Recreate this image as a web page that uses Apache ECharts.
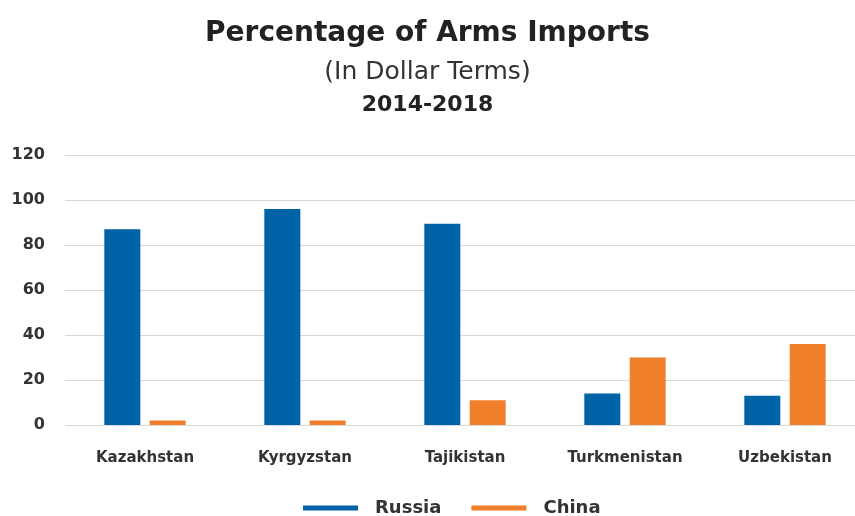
<!DOCTYPE html>
<html>
<head>
<meta charset="utf-8">
<script src="https://cdn.jsdelivr.net/npm/echarts@6/dist/echarts.min.js"></script>
<style>
  html, body { margin: 0; padding: 0; background: #fff; }
  #chart { width: 855px; height: 516px; }
</style>
</head>
<body>
<div id="chart"></div>
<script>
// 中亚国家军火进口占比（按美元计）
const countries = ["Kazakhstan", "Kyrgyzstan", "Tajikistan", "Turkmenistan", "Uzbekistan"];
const russia = [87, 96, 89.5, 14, 13];
const china = [2, 2, 11, 30, 36];
const yTicks = [0, 20, 40, 60, 80, 100, 120];

const font = "DejaVu Sans, Verdana, sans-serif";
const chart = echarts.init(document.getElementById("chart"));

const option = {
  animation: false,
  title: [
    {
      text: "Percentage of Arms Imports",
      left: "center",
      top: 15,
      textStyle: { fontFamily: font, fontSize: 28, fontWeight: "bold", color: "#222" }
    },
    {
      text: "(In Dollar Terms)",
      left: "center",
      top: 55,
      textStyle: { fontFamily: font, fontSize: 25, fontWeight: "normal", color: "#333" }
    },
    {
      text: "2014-2018",
      left: "center",
      top: 89,
      textStyle: { fontFamily: font, fontSize: 22, fontWeight: "bold", color: "#222" }
    }
  ],
  legend: {
    top: 494,
    left: 298,
    icon: "rect",
    itemWidth: 55,
    itemHeight: 5,
    itemGap: 30,
    textStyle: { fontFamily: font, fontSize: 18, fontWeight: "bold", color: "#333", padding: [0, 0, 0, 12] },
    data: ["Russia", "China"]
  },
  grid: { left: 65, top: 155, width: 800, height: 270, outerBoundsMode: "none" },
  xAxis: {
    type: "category",
    data: countries,
    axisLine: { show: false },
    axisTick: { show: false },
    axisLabel: { fontFamily: font, fontSize: 15, fontWeight: "bold", color: "#333", margin: 26 }
  },
  yAxis: {
    type: "value",
    min: yTicks[0],
    max: yTicks[yTicks.length - 1],
    interval: 20,
    axisLine: { show: false },
    axisTick: { show: false },
    axisLabel: { fontFamily: font, fontSize: 16, fontWeight: "bold", color: "#333", margin: 20 },
    splitLine: { lineStyle: { color: "#d8d8d8", width: 1 } }
  },
  series: [
    {
      name: "Russia",
      type: "bar",
      data: russia,
      barWidth: 36,
      barGap: "26%",
      itemStyle: { color: "#0063a7" }
    },
    {
      name: "China",
      type: "bar",
      data: china,
      barWidth: 36,
      itemStyle: { color: "#f07e2b" }
    }
  ]
};

chart.setOption(option);
</script>
</body>
</html>
